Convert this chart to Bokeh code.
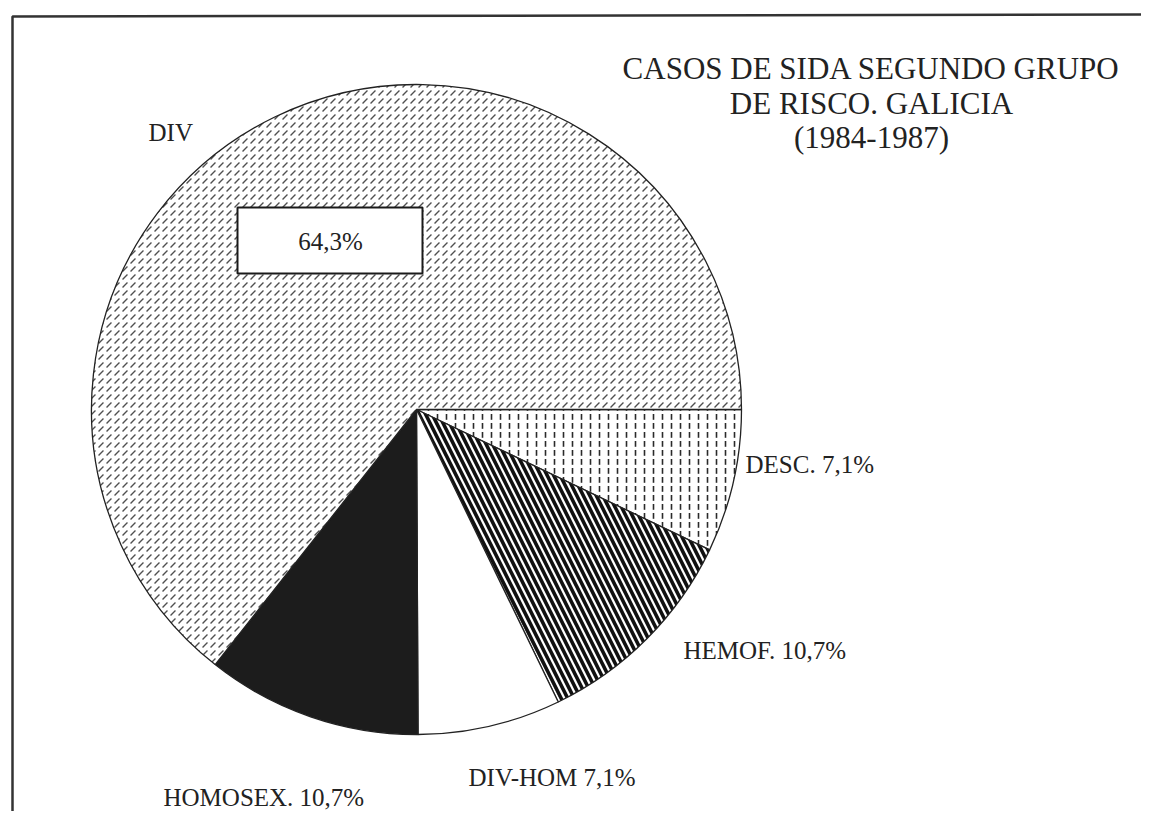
from bokeh.plotting import figure
from bokeh.models import Range1d
from bokeh.embed import file_html
from bokeh.resources import INLINE
from bokeh.core.properties import value
import numpy as np

# ---- data ----
categories = ["DESC.", "HEMOF.", "DIV-HOM", "HOMOSEX.", "DIV"]
percents = [7.1, 10.7, 7.1, 10.7, 64.3]
pct_labels = ["7,1%", "10,7%", "7,1%", "10,7%", "64,3%"]
title_lines = ["CASOS DE SIDA SEGUNDO GRUPO", "DE RISCO. GALICIA", "(1984-1987)"]

# ---- layout / style ----
W, H = 1141, 811
def px(x): return x
def py(y): return H - y

fills = ["white", "white", "white", "#1c1c1c", "white"]
hatches = [":", "\\", None, None, ","]
hatch_colors = ["#2a2a2a", "#111111", "#111111", "#111111", "#505050"]
hatch_weights = [1.6, 3.6, 1, 1, 1.3]
hatch_scales = [9, 13, 10, 10, 8]

p = figure(width=W, height=H, x_range=Range1d(0, W), y_range=Range1d(0, H),
           output_backend="svg", toolbar_location=None, min_border=0)
p.axis.visible = False
p.grid.visible = False
p.outline_line_color = None
p.background_fill_color = "white"
p.border_fill_color = "white"

# frame
p.line([px(12), px(12), px(1170)], [py(840), py(16), py(14)], line_color="#333333", line_width=2.5)

cx, cy, r = px(416), py(409), 325
frac = np.array(percents) / sum(percents)
ends = -2 * np.pi * np.cumsum(frac)
starts = np.concatenate([[0.0], ends[:-1]])

for i in range(len(categories)):
    kw = dict(fill_color=fills[i], line_color="#222222", line_width=1.3)
    if hatches[i]:
        kw.update(hatch_pattern=hatches[i], hatch_color=hatch_colors[i],
                  hatch_weight=hatch_weights[i], hatch_scale=hatch_scales[i])
    p.wedge(x=[cx], y=[cy], radius=r, start_angle=[ends[i]], end_angle=[starts[i]], **kw)

# percent box for DIV
p.quad(left=px(237), right=px(422), top=py(207), bottom=py(273),
       fill_color="white", line_color="#1a1a1a", line_width=2)

font = value("Liberation Serif")
p.text(x=[px(330)], y=[py(241)], text=[pct_labels[4]], text_font=font,
       text_font_size="25px", text_align="center", text_baseline="middle", text_color="#222222")

# slice labels
label_pos = [(745, 464), (683, 650), (468, 777), (163, 797), (148, 132)]
texts = []
for c, l in zip(categories, pct_labels):
    texts.append(c if c == "DIV" else f"{c} {l}")
p.text(x=[px(a) for a, b in label_pos], y=[py(b) for a, b in label_pos], text=texts,
       text_font=font, text_font_size="25px", text_align="left", text_baseline="middle",
       text_color="#222222")

# title
title_y = [68, 103, 137]
p.text(x=[px(871)] * 3, y=[py(v) for v in title_y], text=title_lines, text_font=font,
       text_font_size="31px", text_align="center", text_baseline="middle", text_color="#222222")

open("out.html", "w").write(file_html(p, INLINE))
